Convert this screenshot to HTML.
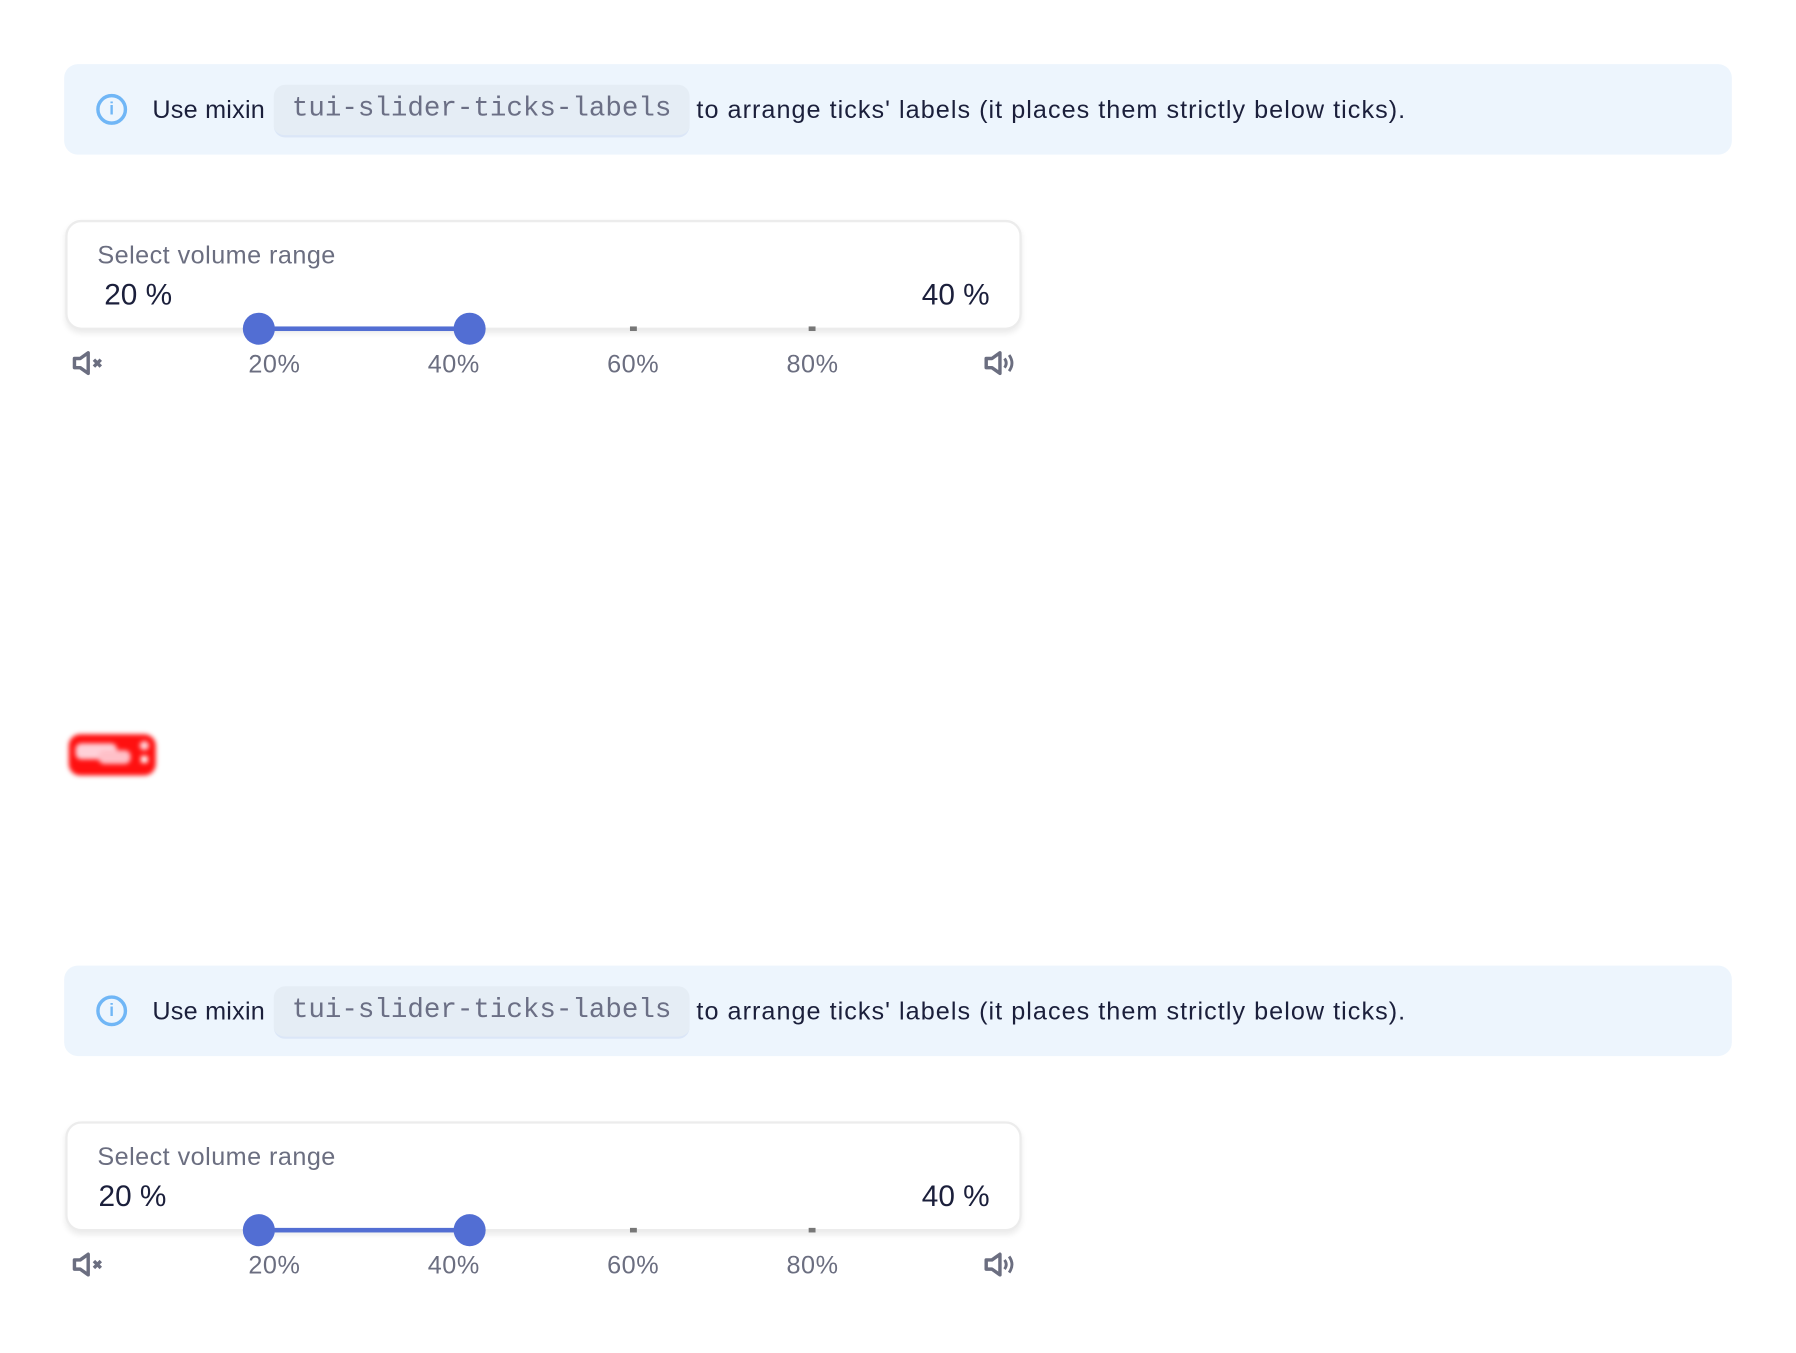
<!DOCTYPE html>
<html><head><meta charset="utf-8">
<style>
html,body{margin:0;padding:0;width:1796px;height:1353px;overflow:hidden;background:#fff;font-family:"Liberation Sans",sans-serif;}
#wrap{position:absolute;left:0;top:0;width:1568px;height:1181px;transform:scale(1.14541);transform-origin:0 0;}
.panel{position:absolute;left:0;width:1568px;background:#fff;}
.info{position:absolute;left:56px;width:1456px;height:79px;background:#edf5fd;border-radius:12px;}
.info .ic{position:absolute;left:28px;top:26px;width:27px;height:27px;border:3px solid #70b6f6;border-radius:50%;box-sizing:border-box;color:#70b6f6;font-size:15px;font-weight:bold;text-align:center;line-height:21px;}
.info .t1{position:absolute;left:77px;top:27px;font-size:22px;color:#1b1f3b;letter-spacing:0.2px;}
.info .code{position:absolute;left:183px;top:18px;width:363px;height:44px;background:#e5edf5;border-bottom:2px solid #dbe6f7;border-radius:10px;font-family:"Liberation Mono",monospace;font-size:24px;color:#6b6f85;line-height:44px;text-align:center;}
.info .t2{position:absolute;left:552px;top:27px;font-size:22px;color:#1b1f3b;letter-spacing:0.9px;white-space:nowrap;}
.card{position:absolute;left:57px;width:835px;height:96px;border:2px solid #ececec;border-radius:14px;box-sizing:border-box;box-shadow:0 3px 5px rgba(0,0,0,0.08);background:#fff;}
.lbl{position:absolute;left:26px;top:16px;font-size:22px;color:#6b6e80;letter-spacing:0.4px;}
.v1{position:absolute;top:48px;font-size:26px;color:#1b1f3b;}
.v2{position:absolute;right:26px;top:48px;font-size:26px;color:#1b1f3b;}
.fill{position:absolute;height:4px;background:#526ed3;}
.thumb{position:absolute;width:28px;height:28px;border-radius:50%;background:#526ed3;}
.tick{position:absolute;width:6px;height:4px;background:#777;}
.tl{position:absolute;font-size:22px;color:#6b6e80;width:80px;text-align:center;letter-spacing:0.5px;}
.icon{position:absolute;}
</style></head><body>
<div id="wrap">
<div class="panel" style="top:0;height:392px;border-radius:0 0 14px 14px"></div>

<div id="blob" style="position:absolute;left:60px;top:641px;width:76px;height:36px;background:#ff1010;border-radius:10px;filter:blur(2px);">
<div style="position:absolute;left:6px;top:8px;width:36px;height:14px;background:#ffd0d8;border-radius:5px"></div>
<div style="position:absolute;left:26px;top:14px;width:28px;height:12px;background:#ffc0c8;border-radius:5px"></div>
<div style="position:absolute;left:62px;top:6px;width:8px;height:8px;background:#ffd6dc;border-radius:50%"></div>
<div style="position:absolute;left:63px;top:19px;width:6px;height:6px;background:#fff"></div>
</div>
</div>

<script>
const tickLabels=['20%','40%','60%','80%'];
const rangeValues=[20,40];
const blockTops=[0,787];
const valueLeft=[89,84];
const wrap=document.getElementById('wrap');
function xLabel(p){return 83+p*7.83;}
function xThumb(p){return 42+p*9.2;}
function mk(tag,cls,parent){const e=document.createElement(tag);if(cls)e.className=cls;parent.appendChild(e);return e;}
blockTops.forEach((off,bi)=>{
  const info=mk('div','info',wrap);info.style.top=(56+off)+'px';
  
  
  const ic=mk('div','ic',info);ic.textContent='i';
  
  
  const t1=mk('div','t1',info);t1.textContent='Use mixin';
  
  
  const code=mk('div','code',info);code.textContent='tui-slider-ticks-labels';
  
  
  const t2=mk('div','t2',info);t2.textContent="to arrange ticks' labels (it places them strictly below ticks).";
  
  

  const card=mk('div','card',wrap);card.style.top=(192+off)+'px';
  
  
  const l=mk('div','lbl',card);l.textContent='Select volume range';
  
  
  const v1=mk('div','v1',card);v1.textContent=rangeValues[0]+' %';v1.style.left=(valueLeft[bi]-57)+'px';
  
  
  const v2=mk('div','v2',card);v2.textContent=rangeValues[1]+' %';
  
  

  const ty=287+off;
  [60,80].forEach(p=>{const t=mk('div','tick',wrap);t.style.left=(xLabel(p)-3)+'px';t.style.top=(ty-2)+'px';
    
    });
  const f=mk('div','fill',wrap);f.style.left=xThumb(rangeValues[0])+'px';f.style.width=(xThumb(rangeValues[1])-xThumb(rangeValues[0]))+'px';f.style.top=(ty-2)+'px';
  
  
  rangeValues.forEach((v,i)=>{const th=mk('div','thumb',wrap);th.style.left=(xThumb(v)-14)+'px';th.style.top=(ty-14)+'px';
    
    });
  tickLabels.forEach((s,i)=>{const t=mk('div','tl',wrap);t.textContent=s;t.style.left=(xLabel((i+1)*20)-40)+'px';t.style.top=(305+off)+'px';
    
    });
  const m=mk('div','icon',wrap);m.style.left='63px';m.style.top=(306+off)+'px';
  
  
  m.innerHTML='<svg width="28" height="22" viewBox="0 0 28 22"><path d="M2 7h5l7-5v18l-7-5H2z" fill="none" stroke="#6b6e80" stroke-width="3" stroke-linejoin="round"/><path d="M19 8l6 6M25 8l-6 6" stroke="#6b6e80" stroke-width="3"/></svg>';
  const s=mk('div','icon',wrap);s.style.left='859px';s.style.top=(306+off)+'px';
  
  
  s.innerHTML='<svg width="30" height="22" viewBox="0 0 30 22"><path d="M2 7h5l7-5v18l-7-5H2z" fill="none" stroke="#6b6e80" stroke-width="3" stroke-linejoin="round"/><path d="M18 7q3 4 0 8M22 4q5 7 0 14" fill="none" stroke="#6b6e80" stroke-width="2.5"/></svg>';
});
</script>
</body></html>
